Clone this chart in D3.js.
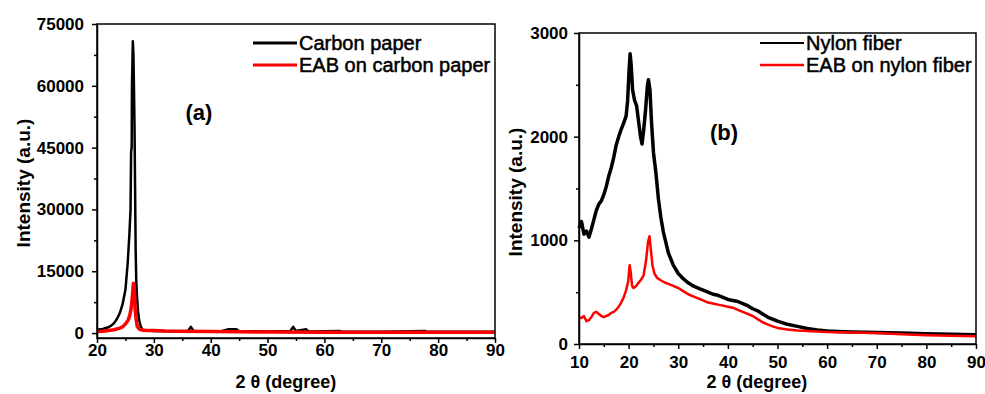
<!DOCTYPE html>
<html>
<head>
<meta charset="utf-8">
<script src="https://cdn.jsdelivr.net/npm/d3@7"></script>
<style>
  body { margin: 0; background: #fff; }
  svg { display: block; font-family: "Liberation Sans", Arial, sans-serif; }
</style>
</head>
<body>
<script>
// panel (a): carbon paper, [2theta, intensity]
const carbonPaper = [
    [20, 800], [21, 1000], [22, 1400], [22.5, 1800], [23, 2400], [23.5, 3400], [24, 4800],
    [24.5, 7000], [25, 10500], [25.4, 17000], [25.7, 24000], [25.9, 30000], [26.0, 44000],
    [26.1, 45000], [26.15, 60000], [26.3, 70800], [26.4, 68000], [26.5, 60000], [26.6, 50000],
    [26.7, 35000], [26.8, 20000], [26.9, 13000], [27.0, 9700], [27.2, 5500], [27.4, 3200],
    [27.7, 1600], [28, 800], [29, 600], [30, 500], [32, 450], [34, 400], [36, 500], [36.5, 1500],
    [37, 500], [40, 450], [42, 500], [43, 900], [44.5, 900], [45, 500], [50, 400], [54, 500],
    [54.5, 1500], [55, 500], [56.8, 900], [57.2, 400], [62.7, 500], [63, 300], [70, 300],
    [77.7, 500], [78, 300], [90, 300]
];
const eabCarbon = [
    [20, 400], [21, 450], [22, 600], [23, 800], [24, 1200], [24.5, 1500], [25, 2200],
    [25.5, 3200], [25.8, 4500], [26.0, 6000], [26.2, 8500], [26.4, 12100], [26.6, 10000],
    [26.7, 6000], [26.9, 3200], [27.1, 1500], [27.5, 900], [28, 700], [29, 650], [30, 600],
    [32, 500], [35, 450], [40, 350], [45, 300], [50, 250], [60, 200], [70, 200], [80, 200], [90, 200]
];

// panel (b): nylon fiber
const nylonFiber = [
    [10, 1120], [10.5, 1180], [11, 1060], [11.5, 1090], [12, 1030], [12.5, 1110], [13, 1200],
    [13.5, 1290], [14, 1350], [14.5, 1380], [15, 1440], [15.5, 1520], [16, 1620], [16.5, 1700],
    [17, 1800], [17.5, 1920], [18, 2000], [18.5, 2070], [19, 2130], [19.5, 2200], [19.8, 2350],
    [20.1, 2650], [20.3, 2800], [20.5, 2700], [20.8, 2450], [21.2, 2350], [21.6, 2300],
    [22, 2150], [22.4, 2000], [22.7, 1930], [23, 2050], [23.4, 2250], [23.8, 2500], [24.0, 2550],
    [24.3, 2450], [24.6, 2150], [25, 1850], [25.5, 1650], [26, 1400], [26.5, 1220], [27, 1080],
    [27.5, 980], [28, 880], [29, 760], [30, 680], [31, 630], [32, 590], [33, 560], [34, 540],
    [35, 520], [36, 500], [37, 480], [38, 470], [39, 450], [40, 430], [41, 420], [42, 410],
    [43, 390], [44, 370], [45, 340], [46, 320], [47, 290], [48, 260], [49, 240], [50, 220],
    [52, 190], [54, 170], [56, 150], [58, 135], [60, 125], [62, 120], [65, 115], [70, 110],
    [75, 105], [80, 100], [85, 95], [90, 90]
];
const eabNylon = [
    [10, 260], [10.5, 250], [11, 270], [11.5, 220], [12, 230], [12.5, 260], [13, 300],
    [13.5, 310], [14, 290], [14.5, 270], [15, 260], [15.5, 270], [16, 280], [16.5, 300],
    [17, 310], [17.5, 330], [18, 360], [18.5, 400], [19, 450], [19.5, 520], [19.9, 600],
    [20.2, 760], [20.4, 700], [20.7, 560], [21, 540], [21.5, 560], [22, 590], [22.5, 620],
    [23, 660], [23.5, 800], [23.9, 980], [24.2, 1040], [24.5, 900], [24.8, 760], [25.2, 680],
    [25.7, 640], [26.3, 620], [27, 600], [28, 580], [29, 560], [30, 540], [31, 510], [32, 480],
    [33, 460], [34, 440], [35, 420], [36, 400], [37, 390], [38, 380], [39, 370], [40, 360],
    [41, 350], [42, 330], [43, 310], [44, 290], [45, 270], [46, 240], [47, 210], [48, 190],
    [49, 170], [50, 155], [52, 140], [54, 130], [56, 125], [58, 120], [60, 115], [65, 110],
    [70, 105], [75, 95], [80, 85], [85, 80], [90, 75]
];

const ticksXa = [20, 30, 40, 50, 60, 70, 80, 90];
const ticksYa = [0, 15000, 30000, 45000, 60000, 75000];
const ticksXb = [10, 20, 30, 40, 50, 60, 70, 80, 90];
const ticksYb = [0, 1000, 2000, 3000];

const svg = d3.select("body").append("svg")
    .attr("width", 985)
    .attr("height", 394);

function drawPanel(cfg) {
    const x = d3.scaleLinear().domain(cfg.xDomain).range([cfg.left, cfg.right]);
    const y = d3.scaleLinear().domain(cfg.yDomain).range([cfg.bottom, cfg.top]);
    const g = svg.append("g");

    const line = d3.line().x(d => x(d[0])).y(d => y(d[1]));

    cfg.series.forEach(s => {
        g.append("path")
            .datum(s.data)
            .attr("fill", "none")
            .attr("stroke", s.color)
            .attr("stroke-width", s.width)
            .attr("stroke-linejoin", "round")
            .attr("d", line);
    });

    // frame
    g.append("rect")
        .attr("x", cfg.left).attr("y", cfg.top)
        .attr("width", cfg.right - cfg.left).attr("height", cfg.bottom - cfg.top)
        .attr("fill", "none").attr("stroke", "#000").attr("stroke-width", 1.5);

    // minor ticks
    g.append("g")
        .attr("transform", `translate(0,${cfg.bottom})`)
        .call(d3.axisBottom(x).tickValues(cfg.xMinor).tickSize(3).tickSizeOuter(0).tickFormat(""))
        .call(a => a.select(".domain").remove());
    g.append("g")
        .attr("transform", `translate(${cfg.left},0)`)
        .call(d3.axisLeft(y).tickValues(cfg.yMinor).tickSize(3).tickSizeOuter(0).tickFormat(""))
        .call(a => a.select(".domain").remove());

    const xa = g.append("g")
        .attr("transform", `translate(0,${cfg.bottom})`)
        .call(d3.axisBottom(x).tickValues(cfg.xTicks).tickSize(5).tickSizeOuter(0)
            .tickPadding(cfg.xPad).tickFormat(d3.format("d")));
    const ya = g.append("g")
        .attr("transform", `translate(${cfg.left},0)`)
        .call(d3.axisLeft(y).tickValues(cfg.yTicks).tickSize(5).tickSizeOuter(0)
            .tickPadding(cfg.yPad).tickFormat(d3.format("d")));

    [xa, ya].forEach(a => {
        a.select(".domain").attr("stroke-width", 1.5);
        a.selectAll("text")
            .attr("font-family", "Liberation Sans, Arial, sans-serif")
            .attr("font-size", 17)
            .attr("font-weight", "bold")
            .attr("fill", "#000");
    });
    g.selectAll(".tick line").attr("stroke-width", 1.5);

    // axis titles
    g.append("text")
        .attr("x", cfg.xTitle[0]).attr("y", cfg.xTitle[1])
        .attr("text-anchor", "middle")
        .attr("font-size", 18).attr("font-weight", "bold")
        .text("2 \u03B8 (degree)");
    g.append("text")
        .attr("transform", `translate(${cfg.yTitle[0]},${cfg.yTitle[1]}) rotate(-90)`)
        .attr("text-anchor", "middle")
        .attr("dy", "0.35em")
        .attr("font-size", 19).attr("font-weight", "bold")
        .text("Intensity (a.u.)");

    // panel tag
    g.append("text")
        .attr("x", cfg.tag[0]).attr("y", cfg.tag[1])
        .attr("text-anchor", "middle").attr("dy", "0.35em")
        .attr("font-size", 22).attr("font-weight", "bold")
        .text(cfg.tag[2]);

    // legend
    cfg.series.forEach((s, i) => {
        const ly = cfg.legend[1] + i * 22;
        g.append("line")
            .attr("x1", cfg.legend[0]).attr("x2", cfg.legend[0] + 44)
            .attr("y1", ly).attr("y2", ly)
            .attr("stroke", s.color).attr("stroke-width", s.legendWidth);
        g.append("text")
            .attr("x", cfg.legend[0] + 46).attr("y", ly)
            .attr("dy", "0.35em")
            .attr("font-size", 20)
            .attr("stroke", "#000").attr("stroke-width", 0.5)
            .text(s.name);
    });
}

drawPanel({
    left: 97, right: 495, top: 24, bottom: 338,
    xDomain: [20, 90], yDomain: [-1200, 75000],
    xTicks: ticksXa, yTicks: ticksYa,
    xMinor: d3.range(25, 90, 10), yMinor: d3.range(7500, 75000, 15000),
    xPad: 1, yPad: 8,
    xTitle: [286, 388], yTitle: [23, 183], tag: [199, 112, "(a)"],
    legend: [253, 43],
    series: [
        { name: "Carbon paper", data: carbonPaper, color: "#000", width: 2.5, legendWidth: 3 },
        { name: "EAB on carbon paper", data: eabCarbon, color: "#f00", width: 3.5, legendWidth: 3 }
    ]
});

drawPanel({
    left: 579, right: 976, top: 33, bottom: 344,
    xDomain: [10, 90], yDomain: [0, 3000],
    xTicks: ticksXb, yTicks: ticksYb,
    xMinor: d3.range(15, 90, 10), yMinor: [500, 1500, 2500],
    xPad: 7, yPad: 6,
    xTitle: [757, 388], yTitle: [515, 192], tag: [724, 132, "(b)"],
    legend: [760, 43],
    series: [
        { name: "Nylon fiber", data: nylonFiber, color: "#000", width: 3.5, legendWidth: 2 },
        { name: "EAB on nylon fiber", data: eabNylon, color: "#f00", width: 2.5, legendWidth: 2.5 }
    ]
});
</script>
</body>
</html>
